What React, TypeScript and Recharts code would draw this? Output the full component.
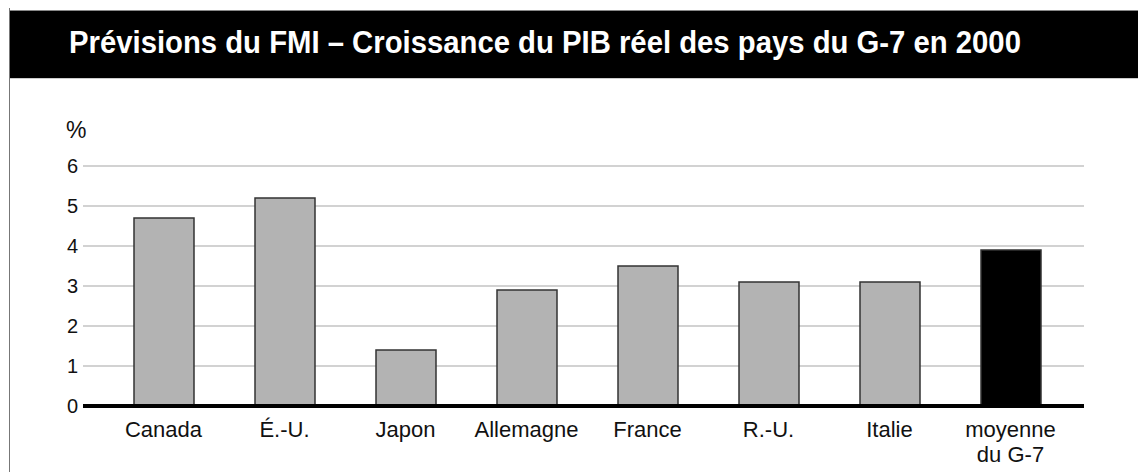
import React from 'react';
import { BarChart, Bar, Cell, XAxis, YAxis, CartesianGrid } from 'recharts';

const categories = ['Canada', 'É.-U.', 'Japon', 'Allemagne', 'France', 'R.-U.', 'Italie', 'moyenne\ndu G-7'];
const growth = [4.7, 5.2, 1.4, 2.9, 3.5, 3.1, 3.1, 3.9];
const yTicks = [0, 1, 2, 3, 4, 5, 6];
const AVERAGE = 'moyenne\ndu G-7';

const data = categories.map((name, i) => ({ name, value: growth[i] }));

const FONT = '"Liberation Sans", Arial, Helvetica, sans-serif';

const CountryTick = (props: any) => {
    const { x, y, payload } = props;
    const lines = String(payload.value).split('\n');
    return (
        <text x={x} y={y} textAnchor="middle" fill="#111" fontSize={22} fontFamily={FONT}>
            {lines.map((l, i) => (
                <tspan key={i} x={x} dy={i === 0 ? 16 : 25}>{l}</tspan>
            ))}
        </text>
    );
};

export default function App() {
    return (
        <div style={{ position: 'relative', width: 1138, height: 464, borderLeft: '1px solid #777', marginLeft: 1, boxSizing: 'border-box' }}>
            <div style={{
                position: 'absolute', left: 0, top: 2, width: 1137, height: 69, background: '#000',
                borderTop: '1px solid #888', borderBottom: '1px solid #ccc', boxSizing: 'border-box',
                color: '#fff', fontFamily: FONT,
                fontWeight: 'bold', fontSize: 32, lineHeight: '63px', paddingLeft: 59, whiteSpace: 'nowrap'
            }}>
                {/* condensed look of the original heading */}
                <span style={{ display: 'inline-block', transform: 'scaleX(0.915)', transformOrigin: 'left center' }}>
                    Prévisions du FMI – Croissance du PIB réel des pays du G-7 en 2000
                </span>
            </div>
            <span style={{ position: 'absolute', left: 56, top: 109, fontFamily: FONT, fontSize: 23, color: '#111' }}>%</span>
            <div style={{ position: 'absolute', left: -1, top: 0 }}>
                <BarChart width={1138} height={464} data={data} margin={{ top: 158, right: 63, bottom: 6, left: 0 }}>
                    <CartesianGrid vertical={false} stroke="#a6a6a6" strokeWidth={1.2} />
                    <XAxis
                        dataKey="name"
                        interval={0}
                        height={60}
                        padding={{ left: 20, right: 13 }}
                        axisLine={{ stroke: '#000', strokeWidth: 4 }}
                        tickLine={false}
                        tickSize={8}
                        tickMargin={7}
                        tick={<CountryTick />}
                    />
                    <YAxis
                        width={74}
                        domain={[0, 6]}
                        ticks={yTicks}
                        axisLine={false}
                        tickLine={false}
                        tickSize={3}
                        tickMargin={2}
                        tick={{ fill: '#111', fontSize: 20, fontFamily: FONT }}
                    />
                    <Bar dataKey="value" barSize={60} stroke="#333" strokeWidth={1.5} isAnimationActive={false}>
                        {data.map((d, i) => (
                            <Cell key={i} fill={d.name === AVERAGE ? '#000' : '#b3b3b3'} />
                        ))}
                    </Bar>
                </BarChart>
            </div>
        </div>
    );
}
